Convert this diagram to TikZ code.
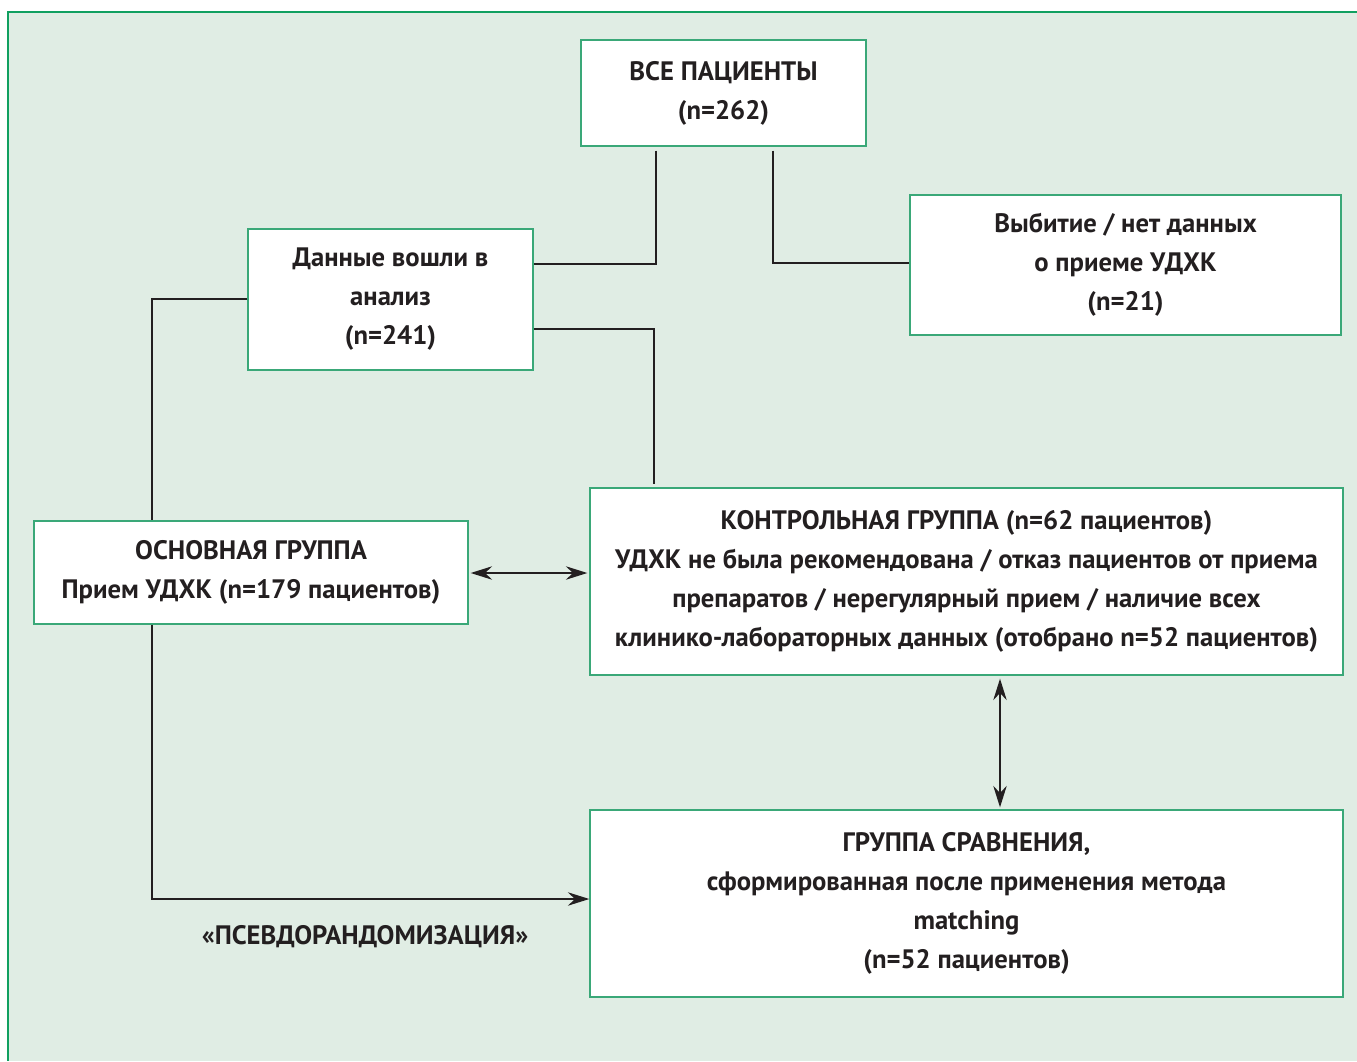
\documentclass[tikz,border=0pt]{standalone}
\usepackage{fontspec}
\setmainfont{PT Sans}
\usetikzlibrary{calc,arrows.meta}
\definecolor{bggreen}{HTML}{E0EDE4}
\definecolor{framegreen}{HTML}{10A060}
\definecolor{boxgreen}{HTML}{3AA878}
\definecolor{ink}{HTML}{231F20}
\begin{document}
\begin{tikzpicture}[x=0.75pt,y=-0.75pt,
    box/.style={draw=boxgreen,line width=1pt,fill=white,align=center,text=ink,
        font=\fontsize{20}{29.25}\selectfont\bfseries,inner sep=0pt},
    link/.style={draw=ink,line width=1.8pt},
    tip/.style={-{Stealth[length=16pt,width=10pt]}},
    tips/.style={{Stealth[length=16pt,width=10pt]}-{Stealth[length=16pt,width=10pt]}}]
        \useasboundingbox (0,0) rectangle (1357,1061);
        \fill[bggreen] (8,12) rectangle (1357,1061);
        \draw[framegreen,line width=1.5pt] (1357,12) -- (8,12) -- (8,1061);
        % boxes
        \node[box,minimum width=0.75*285pt,minimum height=0.75*106pt] (all) at (723.5,93) {ВСЕ ПАЦИЕНТЫ\\(n=262)};
        \node[box,minimum width=0.75*431pt,minimum height=0.75*140pt] (drop) at (1125.5,265) {Выбитие / нет данных\\о приеме УДХК\\(n=21)};
        \node[box,minimum width=0.75*285pt,minimum height=0.75*141pt] (incl) at (390.5,299.5) {Данные вошли в\\анализ\\(n=241)};
        \node[box,minimum width=0.75*434pt,minimum height=0.75*103pt] (main) at (251,572.5) {ОСНОВНАЯ ГРУППА\\Прием УДХК (n=179 пациентов)};
        \node[box,minimum width=0.75*753pt,minimum height=0.75*187pt] (ctrl) at (966.5,581.5) {КОНТРОЛЬНАЯ ГРУППА (n=62 пациентов)\\УДХК не была рекомендована / отказ пациентов от приема\\препаратов / нерегулярный прием / наличие всех\\клинико-лабораторных данных (отобрано n=52 пациентов)};
        \node[box,minimum width=0.75*753pt,minimum height=0.75*187pt] (cmp) at (966.5,903.5) {ГРУППА СРАВНЕНИЯ,\\сформированная после применения метода\\matching\\(n=52 пациентов)};
        \node[text=ink,font=\fontsize{20}{29.25}\selectfont\bfseries] (psr) at (365,937) {«ПСЕВДОРАНДОМИЗАЦИЯ»};
        % connectors
        \draw[link] ($(all.south)+(-67.5,4)$) |- ($(incl.east)+(0,-35.5)$);
        \draw[link] ($(all.south)+(49.5,4)$) |- ($(drop.west)+(0,-2)$);
        \draw[link] ($(incl.east)+(0,29.5)$) -| ($(ctrl.north)+(-312.5,-3)$);
        \draw[link] ($(incl.west)+(0,-0.5)$) -| ($(main.north)+(-99,0)$);
        \draw[link,tip] ($(main.south)+(-99,0)$) |- ($(cmp.west)+(0,-4.5)$);
        \draw[link,tips] ($(main.east)+(2,0.5)$) -- ($(main.east -| ctrl.west)+(-2,0.5)$);
        \draw[link,tips] ($(ctrl.south)+(33.5,3)$) -- ($(cmp.north)+(33.5,-2)$);
    \end{tikzpicture}
\end{document}
